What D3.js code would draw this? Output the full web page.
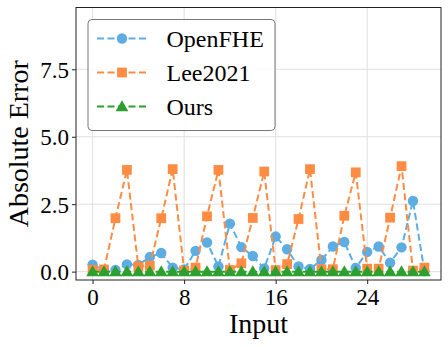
<!DOCTYPE html>
<html><head><meta charset="utf-8">
<script src="https://cdn.jsdelivr.net/npm/d3@7"></script>
<style>body{margin:0;background:#fff}svg{display:block}text{font-family:"Liberation Serif","Times New Roman",serif;fill:#000}</style>
</head><body>
<svg id="c" width="448" height="347"></svg>
<script>
const inputs = d3.range(0, 30);
const openfhe = [0.26,0.05,0.06,0.27,0.25,0.54,0.69,0.15,0.08,0.77,1.08,0.19,1.78,0.91,0.58,0.12,1.30,0.83,0.19,0.10,0.43,0.93,1.10,0.14,0.73,0.93,0.33,0.90,2.62,0.02];
const lee2021 = [0.07,0.08,1.98,3.77,0.18,0.22,1.98,3.80,0.04,0.15,2.05,3.77,0.06,0.31,1.99,3.71,0.06,0.28,1.95,3.80,0.09,0.09,2.07,3.68,0.11,0.11,2.00,3.91,0.04,0.15];
const ours = [0,0,0,0,0,0,0,0,0,0,0,0,0,0,0,0,0,0,0,0,0,0,0,0,0,0,0,0,0,0];
const xTicks = [0, 8, 16, 24];
const yTicks = [0, 2.5, 5.0, 7.5];
const seriesNames = ["OpenFHE", "Lee2021", "Ours"];

const series = [
  {name: seriesNames[0], values: openfhe, color: "#5dade2", shape: "circle"},
  {name: seriesNames[1], values: lee2021, color: "#ff8c42", shape: "square"},
  {name: seriesNames[2], values: ours, color: "#2ca02c", shape: "triangle"}
];

const L = 76, R = 441, T = 7.5, B = 280;
const svg = d3.select("#c");
const x = d3.scaleLinear().domain([-1.45, 30.45]).range([L, R]);
const y = d3.scaleLinear().domain([-0.31, 9.79]).range([B, T]);

// grid
const g = svg.append("g");
g.selectAll(".gx").data(xTicks).join("line")
  .attr("x1", d => x(d)).attr("x2", d => x(d)).attr("y1", T).attr("y2", B)
  .attr("stroke", "#e0e0e0").attr("stroke-width", 1);
g.selectAll(".gy").data(yTicks).join("line")
  .attr("y1", d => y(d)).attr("y2", d => y(d)).attr("x1", L).attr("x2", R)
  .attr("stroke", "#e0e0e0").attr("stroke-width", 1);

// axes
const xAxis = svg.append("g").attr("transform", `translate(0,${B})`)
  .call(d3.axisBottom(x).tickValues(xTicks).tickFormat(d3.format("d")).tickSize(4).tickPadding(4));
const yAxis = svg.append("g").attr("transform", `translate(${L},0)`)
  .call(d3.axisLeft(y).tickValues(yTicks).tickFormat(d3.format(".1f")).tickSize(4).tickPadding(3));
[xAxis, yAxis].forEach(a => {
  a.select(".domain").remove();
  a.selectAll("line").attr("stroke", "#222");
  a.selectAll("text").style("font-family", '"Liberation Serif",serif').style("font-size", "23px").attr("fill", "#000");
});
xAxis.selectAll("text").attr("dy", "0.72em");
yAxis.selectAll("text").attr("dy", "0.34em");

// series
const sym = {circle: d3.symbolCircle, square: d3.symbolSquare, triangle: d3.symbolTriangle};
const symSize = {circle: 85, square: 95, triangle: 70};
const line = d3.line().x((d, i) => x(inputs[i])).y(d => y(d));
series.forEach(s => {
  svg.append("path").datum(s.values).attr("d", line)
    .attr("fill", "none").attr("stroke", s.color).attr("stroke-width", 2)
    .attr("stroke-dasharray", "7,3.5");
  svg.append("g").selectAll("path").data(s.values).join("path")
    .attr("d", d3.symbol().type(sym[s.shape]).size(symSize[s.shape]))
    .attr("transform", (d, i) => `translate(${x(inputs[i])},${y(d) + (s.shape === "triangle" ? 1 : 0)})`)
    .attr("fill", s.color);
});

// frame
svg.append("rect").attr("x", L).attr("y", T).attr("width", R - L).attr("height", B - T)
  .attr("fill", "none").attr("stroke", "#222").attr("stroke-width", 1);

// labels
svg.append("text").attr("x", (L + R) / 2).attr("y", 333).attr("text-anchor", "middle")
  .style("font-size", "28px").text("Input");
svg.append("text").attr("transform", `translate(28,${(T + B) / 2}) rotate(-90)`).attr("text-anchor", "middle")
  .style("font-size", "28px").text("Absolute Error");

// legend
const lg = svg.append("g");
lg.append("rect").attr("x", 88).attr("y", 19.5).attr("width", 187).attr("height", 111).attr("rx", 4)
  .attr("fill", "#fff").attr("fill-opacity", 0.85).attr("stroke", "#777").attr("stroke-width", 1);
series.forEach((s, i) => {
  const cy = 38.5 + i * 34;
  lg.append("line").attr("x1", 97).attr("x2", 147).attr("y1", cy).attr("y2", cy)
    .attr("stroke", s.color).attr("stroke-width", 2).attr("stroke-dasharray", "7,3.5");
  lg.append("path").attr("d", d3.symbol().type(sym[s.shape]).size(symSize[s.shape]))
    .attr("transform", `translate(122,${cy + (s.shape === "triangle" ? 1 : 0)})`).attr("fill", s.color);
  lg.append("text").attr("x", 166.5).attr("y", cy + 8).style("font-size", "24px").text(s.name);
});
</script>
</body></html>
